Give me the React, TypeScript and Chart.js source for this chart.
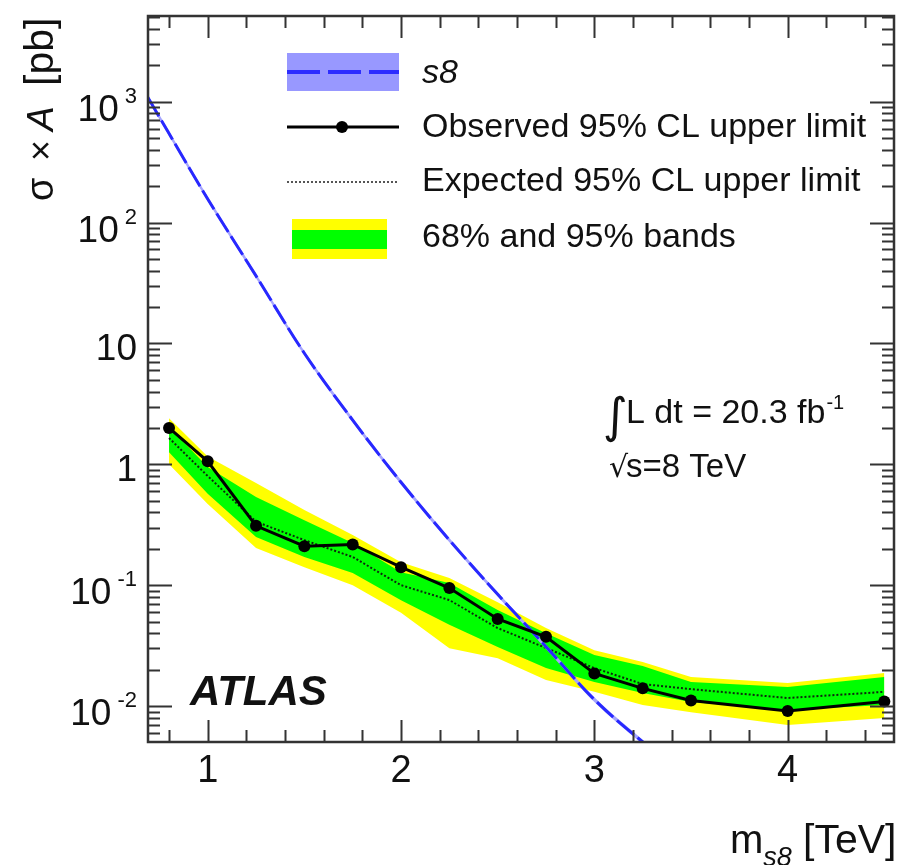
import { useEffect, useRef } from "react";
import { Chart, registerables } from "chart.js";

Chart.register(...registerables);

// ---------- data ----------
const massPoints = [0.8, 1.0, 1.25, 1.5, 1.75, 2.0, 2.25, 2.5, 2.75, 3.0, 3.25, 3.5, 4.0, 4.5];
const observedLimit = [2.0, 1.06, 0.31, 0.21, 0.217, 0.141, 0.0946, 0.0525, 0.0374, 0.0186, 0.014, 0.0111, 0.0091, 0.0109];
const expectedLimit = [1.65, 0.8, 0.335, 0.236, 0.171, 0.1, 0.0753, 0.0442, 0.0302, 0.0206, 0.0152, 0.0138, 0.01165, 0.0131];
const band68High = [2.05, 0.95, 0.536, 0.345, 0.223, 0.128, 0.104, 0.0622, 0.0401, 0.0264, 0.0214, 0.0158, 0.01436, 0.0174];
const band68Low = [1.26, 0.57, 0.25, 0.171, 0.126, 0.075, 0.047, 0.0308, 0.0206, 0.0158, 0.0128, 0.0108, 0.00927, 0.0102];
const band95High = [2.4, 1.16, 0.7, 0.418, 0.26, 0.155, 0.1145, 0.0724, 0.0442, 0.029, 0.0231, 0.0174, 0.0155, 0.01875];
const band95Low = [1.0, 0.47, 0.203, 0.141, 0.1, 0.059, 0.03, 0.0249, 0.0164, 0.0131, 0.0102, 0.0089, 0.00697, 0.00796];

const theoryMass = [0.69, 1.0, 1.25, 1.5, 1.75, 2.0, 2.25, 2.5, 2.75, 3.0, 3.25, 3.5];
const theoryXsec = [1090, 157, 36.2, 8.3, 2.32, 0.71, 0.236, 0.084, 0.031, 0.0113, 0.00504, 0.00237];
const theoryHigh = [1140, 164, 37.8, 8.65, 2.42, 0.74, 0.246, 0.0875, 0.0323, 0.0118, 0.00525, 0.00247];
const theoryLow = [1040, 150, 34.6, 7.95, 2.22, 0.68, 0.226, 0.0805, 0.0297, 0.0108, 0.00483, 0.00227];

const xTickLabels = [1, 2, 3, 4];
const yTickValues = [1000, 100, 10, 1, 0.1, 0.01];
const yTickBase = ["10", "10", "10", "1", "10", "10"];
const yTickExp = ["3", "2", "", "", "-1", "-2"];

const legendLabels = ["s8", "Observed 95% CL upper limit", "Expected 95% CL upper limit", "68% and 95% bands"];

const xMin = 0.6912;
const xMax = 4.55;
const yMin = 0.00504;
const yMax = 5120;

const FONT = '"Liberation Sans", Arial, Helvetica, sans-serif';

const pts = (xs: number[], ys: number[]) => xs.map((x, i) => ({ x, y: ys[i] }));

const decorPlugin = {
  id: "decor",
  afterDatasetsDraw(chart: any) {
    const { ctx, chartArea: a, scales } = chart;
    const xs = scales.x;
    const ys = scales.y;
    ctx.save();
    ctx.strokeStyle = "#333";
    ctx.lineWidth = 2;
    ctx.beginPath();
    for (let k = 4; k <= 22; k++) {
      const v = k / 5;
      if (v < xMin || v > xMax) continue;
      const px = Math.round(xs.getPixelForValue(v)) + 0.5;
      const major = k % 5 === 0;
      const len = major ? 22 : 12;
      ctx.moveTo(px, a.bottom);
      ctx.lineTo(px, a.bottom - len);
      ctx.moveTo(px, a.top);
      ctx.lineTo(px, a.top + len);
    }
    for (let d = -3; d <= 3; d++) {
      for (let m = 1; m <= 9; m++) {
        const v = m * Math.pow(10, d);
        if (v < yMin || v > yMax) continue;
        const py = Math.round(ys.getPixelForValue(v)) + 0.5;
        const len = m === 1 ? 24 : 12;
        ctx.moveTo(a.left, py);
        ctx.lineTo(a.left + len, py);
        ctx.moveTo(a.right, py);
        ctx.lineTo(a.right - len, py);
      }
    }
    ctx.stroke();
    ctx.lineWidth = 2.5;
    ctx.strokeRect(a.left, a.top, a.right - a.left, a.bottom - a.top);
    ctx.restore();
  },
  afterDraw(chart: any) {
    const { ctx, scales } = chart;
    const xs = scales.x;
    const ys = scales.y;
    ctx.save();
    ctx.fillStyle = "#111";
    ctx.textBaseline = "alphabetic";

    // x tick labels
    ctx.font = `38px ${FONT}`;
    ctx.textAlign = "center";
    xTickLabels.forEach((v) => {
      ctx.fillText(String(v), xs.getPixelForValue(v), 782);
    });

    // y tick labels
    const labelRight = 137;
    yTickValues.forEach((v, i) => {
      const py = ys.getPixelForValue(v);
      const exp = yTickExp[i];
      ctx.textAlign = "right";
      if (exp) {
        ctx.font = `22px ${FONT}`;
        const ew = ctx.measureText(exp).width;
        ctx.fillText(exp, labelRight, py + 1);
        ctx.font = `37px ${FONT}`;
        ctx.fillText(yTickBase[i], labelRight - ew - 6, py + 19);
      } else {
        ctx.font = `37px ${FONT}`;
        ctx.fillText(yTickBase[i], labelRight, py + 17);
      }
    });

    // y axis title (rotated), drawn piecewise from bottom (y=200) upwards
    ctx.save();
    ctx.translate(53, 201);
    ctx.rotate(-Math.PI / 2);
    ctx.textAlign = "left";
    ctx.font = `38px ${FONT}`;
    ctx.fillText("σ", 0, 0);
    ctx.font = `36px ${FONT}`;
    ctx.fillText("×", 40, 0);
    ctx.font = `italic 37px ${FONT}`;
    ctx.fillText("A", 70, 0);
    ctx.font = `41px ${FONT}`;
    ctx.fillText("[pb]", 115, 0);
    ctx.restore();

    // x axis title
    ctx.textAlign = "left";
    ctx.font = `40px ${FONT}`;
    ctx.fillText("m", 730, 853);
    const mw = ctx.measureText("m").width;
    ctx.font = `italic 27px ${FONT}`;
    ctx.fillText("s8", 730 + mw, 866);
    ctx.font = `41px ${FONT}`;
    ctx.fillText("[TeV]", 803, 853);

    // ATLAS label
    ctx.font = `italic bold 42px ${FONT}`;
    ctx.fillText("ATLAS", 190, 705);

    // luminosity annotation
    ctx.font = `48px "DejaVu Sans", ${FONT}`;
    ctx.fillText("∫", 603, 432);
    ctx.font = `34px ${FONT}`;
    const lumiText = "L dt = 20.3 fb";
    ctx.fillText(lumiText, 626, 423);
    const lw = ctx.measureText(lumiText).width;
    ctx.font = `20px ${FONT}`;
    ctx.fillText("-1", 626 + lw + 1, 409);
    ctx.font = `30px "DejaVu Sans", ${FONT}`;
    ctx.fillText("√", 609, 477);
    ctx.font = `33px ${FONT}`;
    ctx.fillText("s=8 TeV", 626, 477);

    // legend
    const sx0 = 287;
    const sx1 = 399;
    ctx.fillStyle = "rgb(152,152,255)";
    ctx.fillRect(sx0, 53, sx1 - sx0, 38);
    ctx.strokeStyle = "rgb(45,45,255)";
    ctx.lineWidth = 4;
    ctx.setLineDash([33, 8]);
    ctx.beginPath();
    ctx.moveTo(sx0, 72);
    ctx.lineTo(sx1, 72);
    ctx.stroke();
    ctx.setLineDash([]);
    ctx.strokeStyle = "#000";
    ctx.lineWidth = 3;
    ctx.beginPath();
    ctx.moveTo(sx0, 127);
    ctx.lineTo(sx1, 127);
    ctx.stroke();
    ctx.fillStyle = "#000";
    ctx.beginPath();
    ctx.arc(342, 127, 6, 0, Math.PI * 2);
    ctx.fill();
    ctx.strokeStyle = "#555";
    ctx.lineWidth = 2;
    ctx.setLineDash([2, 2]);
    ctx.beginPath();
    ctx.moveTo(sx0, 182);
    ctx.lineTo(sx1, 182);
    ctx.stroke();
    ctx.setLineDash([]);
    ctx.fillStyle = "#ffff00";
    ctx.fillRect(292, 219, 95, 40);
    ctx.fillStyle = "#00ff00";
    ctx.fillRect(292, 230, 95, 19);

    ctx.fillStyle = "#111";
    ctx.textAlign = "left";
    const baselines = [83, 137, 191, 247];
    legendLabels.forEach((t, i) => {
      ctx.font = i === 0 ? `italic 34px ${FONT}` : `34px ${FONT}`;
      ctx.fillText(t, 422, baselines[i]);
    });

    ctx.restore();
  },
};

export default function App() {
  const ref = useRef<HTMLCanvasElement | null>(null);

  useEffect(() => {
    document.body.style.margin = "0";
    document.body.style.overflow = "hidden";
    const canvas = ref.current;
    if (!canvas) return;
    const band = (data: number[], extra: any) => ({
      data: pts(massPoints, data),
      borderColor: "transparent",
      borderWidth: 0,
      pointRadius: 0,
      ...extra,
    });
    const chart = new Chart(canvas, {
      type: "line",
      data: {
        datasets: [
          {
            label: "observed",
            data: pts(massPoints, observedLimit),
            borderColor: "#000",
            backgroundColor: "#000",
            borderWidth: 3,
            pointRadius: 6,
            pointBorderWidth: 0,
            pointBackgroundColor: "#000",
            fill: false,
            order: 1,
          },
          {
            label: "s8",
            data: pts(theoryMass, theoryXsec),
            borderColor: "rgb(40,40,255)",
            borderWidth: 3,
            borderDash: [22, 5],
            pointRadius: 0,
            fill: false,
            cubicInterpolationMode: "monotone",
            order: 2,
          },
          {
            label: "s8 low",
            data: pts(theoryMass, theoryLow),
            borderColor: "transparent",
            borderWidth: 0,
            pointRadius: 0,
            fill: false,
            cubicInterpolationMode: "monotone",
            order: 3,
          },
          {
            label: "s8 high",
            data: pts(theoryMass, theoryHigh),
            borderColor: "transparent",
            borderWidth: 0,
            pointRadius: 0,
            backgroundColor: "rgb(165,165,255)",
            fill: 2,
            cubicInterpolationMode: "monotone",
            order: 3,
          },
          {
            label: "expected",
            data: pts(massPoints, expectedLimit),
            borderColor: "rgba(15,15,15,0.9)",
            borderWidth: 2,
            borderDash: [2, 2],
            pointRadius: 0,
            fill: false,
            order: 4,
          },
          band(band68Low, { label: "68 low", fill: false, order: 5 }),
          band(band68High, { label: "68 high", backgroundColor: "#00ff00", fill: 5, order: 5 }),
          band(band95Low, { label: "95 low", fill: false, order: 6 }),
          band(band95High, { label: "95 high", backgroundColor: "#ffff00", fill: 7, order: 6 }),
        ],
      },
      options: {
        responsive: false,
        animation: false,
        devicePixelRatio: 1,
        layout: { padding: { left: 148, top: 16, right: 9, bottom: 123 } },
        elements: { line: { tension: 0 } },
        scales: {
          x: { type: "linear", min: xMin, max: xMax, display: false },
          y: { type: "logarithmic", min: yMin, max: yMax, display: false },
        },
        plugins: {
          legend: { display: false },
          tooltip: { enabled: false },
        },
      },
      plugins: [decorPlugin],
    } as any);
    return () => chart.destroy();
  }, []);

  return (
    <div style={{ width: 903, height: 865, background: "#fff" }}>
      <canvas ref={ref} width={903} height={865} style={{ display: "block", width: 903, height: 865 }} />
    </div>
  );
}
